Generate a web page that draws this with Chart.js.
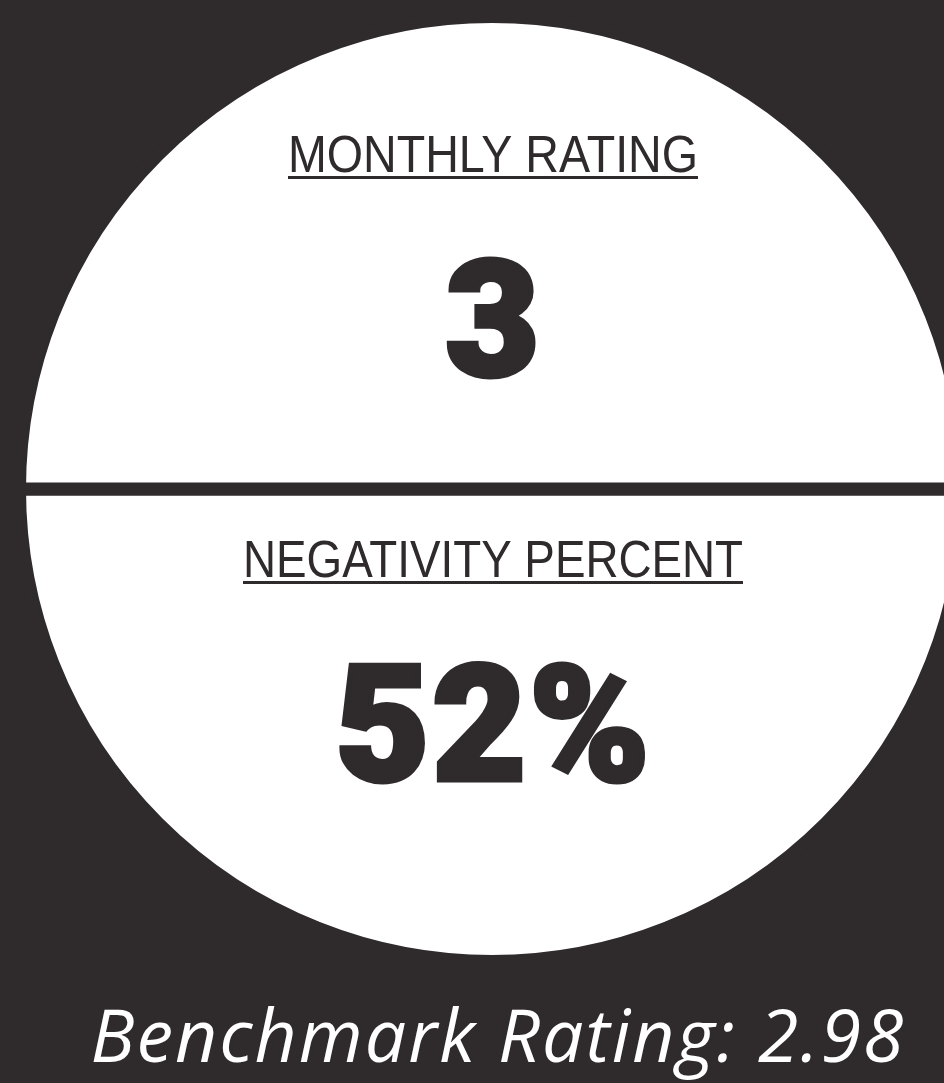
<!DOCTYPE html>
<html>
<head>
<meta charset="utf-8">
<title>Monthly rating</title>
<script src="https://cdn.jsdelivr.net/npm/chart.js@4/dist/chart.umd.min.js"></script>
<style>
  html, body { margin: 0; padding: 0; background: #2f2a2c; overflow: hidden; }
  #wrap { width: 1000px; height: 1083px; }
</style>
</head>
<body>
<div id="wrap"><canvas id="myChart" width="1000" height="1083"></canvas></div>
<script>
// two halves of the disc, one per metric
var sectionLabels = ['MONTHLY RATING', 'NEGATIVITY PERCENT'];
var sectionShares = [1, 1];
var sectionValues = [3, 52];
var valueSuffixes = ['', '%'];
var benchmarkLabel = 'Benchmark Rating';
var benchmarkValues = [2.98];

var DARK = '#2f2a2c';

var textPlugin = {
  id: 'ratingText',
  afterDraw: function (chart) {
    var arc = chart.getDatasetMeta(0).data[0];
    if (!arc) return;
    var cx = arc.x, cy = arc.y;
    var ctx = chart.ctx;
    ctx.save();
    ctx.textAlign = 'center';
    ctx.textBaseline = 'alphabetic';

    // section headings, underlined
    var labelY = [cy - 317, cy + 88];
    var labelW = [410, 500];
    ctx.fillStyle = DARK;
    ctx.font = '51px "Liberation Sans", Arial, sans-serif';
    sectionLabels.forEach(function (txt, i) {
      var w = Math.min(ctx.measureText(txt).width, labelW[i]);
      ctx.fillText(txt, cx + 1, labelY[i], labelW[i]);
      ctx.fillRect(cx + 1 - w / 2, labelY[i] + 4, w, 3);
    });

    // big numbers, stroked a little to get the heavy look
    var valueY = [cy - 114, cy + 291];
    var valueW = [98, 322];
    ctx.font = '900 162px Roboto, Inter, "Liberation Sans", sans-serif';
    ctx.letterSpacing = '3px';
    ctx.strokeStyle = DARK;
    ctx.lineWidth = 5;
    ctx.lineJoin = 'miter';
    sectionValues.forEach(function (v, i) {
      var txt = v + valueSuffixes[i];
      ctx.fillText(txt, cx + 2, valueY[i], valueW[i]);
      ctx.strokeText(txt, cx + 2, valueY[i], valueW[i]);
    });

    // benchmark under the disc
    ctx.fillStyle = '#ffffff';
    ctx.font = 'italic 400 74px "Open Sans", Lato, sans-serif';
    ctx.letterSpacing = '2px';
    ctx.fillText(benchmarkLabel + ': ' + benchmarkValues[0].toFixed(2), 498, 1062, 815);
    ctx.restore();
  }
};

var canvas = document.getElementById('myChart');
new Chart(canvas, {
  type: 'pie',
  data: {
    labels: sectionLabels,
    datasets: [{
      data: sectionShares,
      backgroundColor: ['#ffffff', '#ffffff'],
      borderColor: DARK,
      borderWidth: 13,
      hoverOffset: 0,
      offset: 0
    }]
  },
  options: {
    responsive: false,
    animation: false,
    events: [],
    rotation: 90,
    layout: {
      padding: { left: 13, right: 29, top: 10, bottom: 115 }
    },
    plugins: {
      legend: { display: false },
      tooltip: { enabled: false }
    }
  },
  plugins: [textPlugin]
});
</script>
</body>
</html>
